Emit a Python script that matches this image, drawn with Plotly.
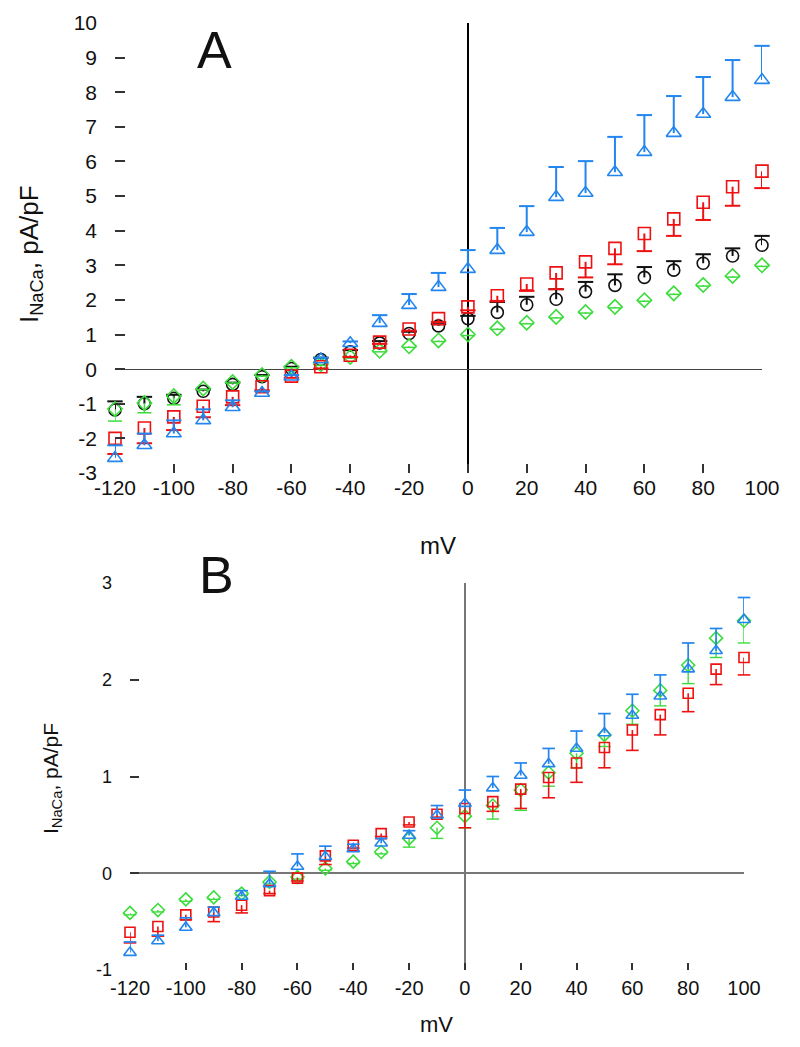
import plotly.graph_objects as go

# ---------------- data ----------------
voltage = [-120, -110, -100, -90, -80, -70, -60, -50, -40, -30, -20, -10,
           0, 10, 20, 30, 40, 50, 60, 70, 80, 90, 100]

# Panel A
a_circle = [-1.18, -1.00, -0.84, -0.64, -0.44, -0.22, 0.02, 0.28, 0.50, 0.76, 1.03, 1.25,
            1.46, 1.64, 1.86, 2.02, 2.24, 2.42, 2.65, 2.86, 3.06, 3.27, 3.58]
a_circle_err = [0.25, 0.20, 0.10, 0.05, 0.05, 0.05, 0.05, 0.05, 0.05, 0.05, 0.05, 0.05,
                0.08, 0.30, 0.23, 0.29, 0.28, 0.32, 0.30, 0.26, 0.26, 0.22, 0.27]

a_square = [-2.00, -1.70, -1.38, -1.07, -0.80, -0.51, -0.20, 0.07, 0.40, 0.78, 1.16, 1.46,
            1.80, 2.12, 2.46, 2.78, 3.10, 3.49, 3.92, 4.34, 4.82, 5.27, 5.72]
a_square_err = [0.45, 0.44, 0.38, 0.32, 0.24, 0.10, 0.05, 0.05, 0.05, 0.05, 0.05, 0.10,
                0.10, 0.15, 0.20, 0.47, 0.45, 0.46, 0.51, 0.49, 0.51, 0.55, 0.49]

a_triangle = [-2.57, -2.20, -1.86, -1.48, -1.10, -0.69, -0.22, 0.28, 0.75, 1.33, 1.85, 2.37,
              2.89, 3.44, 3.96, 4.97, 5.09, 5.69, 6.27, 6.82, 7.37, 7.86, 8.35]
a_triangle_err = [0.37, 0.34, 0.38, 0.32, 0.20, 0.05, 0.05, 0.05, 0.05, 0.23, 0.32, 0.41,
                  0.55, 0.64, 0.75, 0.87, 0.92, 1.02, 1.07, 1.07, 1.07, 1.07, 0.99]

a_diamond = [-1.15, -0.98, -0.78, -0.56, -0.37, -0.17, 0.07, 0.14, 0.35, 0.53, 0.66, 0.83,
             1.00, 1.18, 1.34, 1.51, 1.65, 1.80, 1.99, 2.19, 2.43, 2.69, 3.00]
a_diamond_err = [0.35, 0.28, 0.25, 0.03, 0.03, 0.03, 0.03, 0.03, 0.03, 0.03, 0.03, 0.03,
                 0.03, 0.03, 0.03, 0.03, 0.03, 0.03, 0.03, 0.03, 0.03, 0.03, 0.03]

# Panel B
b_square = [-0.61, -0.55, -0.43, -0.40, -0.33, -0.18, -0.05, 0.18, 0.29, 0.41, 0.53, 0.61,
            0.67, 0.74, 0.87, 0.99, 1.14, 1.30, 1.48, 1.64, 1.86, 2.11, 2.23]
b_square_err = [0.11, 0.10, 0.05, 0.10, 0.08, 0.03, 0.03, 0.09, 0.03, 0.03, 0.03, 0.03,
                0.20, 0.10, 0.20, 0.21, 0.20, 0.21, 0.21, 0.21, 0.19, 0.16, 0.18]

b_triangle = [-0.82, -0.70, -0.56, -0.41, -0.24, -0.11, 0.07, 0.17, 0.25, 0.31, 0.39, 0.60,
              0.72, 0.88, 1.01, 1.13, 1.29, 1.45, 1.63, 1.83, 2.11, 2.30, 2.62]
b_triangle_err = [0.11, 0.06, 0.10, 0.06, 0.06, 0.13, 0.13, 0.11, 0.05, 0.05, 0.05, 0.10,
                  0.14, 0.12, 0.13, 0.16, 0.18, 0.20, 0.22, 0.22, 0.27, 0.23, 0.23]

b_diamond = [-0.41, -0.38, -0.27, -0.25, -0.21, -0.09, -0.04, 0.05, 0.12, 0.22, 0.36, 0.47,
             0.59, 0.70, 0.86, 1.04, 1.24, 1.43, 1.68, 1.89, 2.15, 2.43, 2.61]
b_diamond_err = [0.02, 0.02, 0.02, 0.02, 0.02, 0.02, 0.02, 0.02, 0.02, 0.02, 0.09, 0.11,
                 0.12, 0.14, 0.21, 0.14, 0.15, 0.12, 0.14, 0.16, 0.19, 0.20, 0.23]

a_yticks = list(range(-3, 11))
b_yticks = [-1, 0, 1, 2, 3]
x_ticks = [-120, -100, -80, -60, -40, -20, 0, 20, 40, 60, 80, 100]

BLACK = "#111111"
RED = "#EE1111"
BLUE = "#2385EE"
GREEN = "#3CDC3C"
FONT = "Liberation Sans, Arial, sans-serif"

fig = go.Figure()


def add_series(x, y, err, direction, color, symbol, size, xa, ya, lw, capsize):
    zeros = [0] * len(y)
    if direction == "up":
        ey = dict(type="data", symmetric=False, array=err, arrayminus=zeros,
                  color=color, thickness=lw, width=0)
        caps = [v + e for v, e in zip(y, err)]
    else:
        ey = dict(type="data", symmetric=False, array=zeros, arrayminus=err,
                  color=color, thickness=lw, width=0)
        caps = [v - e for v, e in zip(y, err)]
    fig.add_trace(go.Scatter(
        x=x, y=y, mode="markers", xaxis=xa, yaxis=ya, error_y=ey,
        marker=dict(symbol=symbol, size=size, color=color,
                    line=dict(color=color, width=1.6)),
        cliponaxis=False, showlegend=False, hoverinfo="skip"))
    fig.add_trace(go.Scatter(
        x=x, y=caps, mode="markers", xaxis=xa, yaxis=ya,
        marker=dict(symbol="line-ew-open", size=capsize, color=color,
                    line=dict(color=color, width=lw)),
        cliponaxis=False, showlegend=False, hoverinfo="skip"))


# Panel A
add_series(voltage, a_circle, a_circle_err, "up", BLACK, "circle-open", 12, "x", "y", 2, 11)
add_series(voltage, a_diamond, a_diamond_err, "down", GREEN, "diamond-open", 11, "x", "y", 1.5, 10)
add_series(voltage, a_square, a_square_err, "down", RED, "square-open", 12, "x", "y", 2, 11)
add_series(voltage, a_triangle, a_triangle_err, "up", BLUE, "triangle-up-open", 13, "x", "y", 2, 11)

# Panel B
add_series(voltage, b_diamond, b_diamond_err, "down", GREEN, "diamond-open", 10, "x2", "y2", 1.4, 9)
add_series(voltage, b_square, b_square_err, "down", RED, "square-open", 10, "x2", "y2", 1.6, 9)
add_series(voltage, b_triangle, b_triangle_err, "up", BLUE, "triangle-up-open", 11, "x2", "y2", 1.7, 9)

# page body has an 8px margin: work in page pixels and convert
OFF = 8
W, H = 800 - 2 * OFF, 1047 - 2 * OFF


def px(p):
    return (p - OFF) / W


def py(p):
    return 1 - (p - OFF) / H


def axis_common(size):
    return dict(showgrid=False, showline=False, ticks="inside", automargin=False,
                tickcolor="#333333", tickwidth=1.5,
                tickfont=dict(family=FONT, size=size, color="#111111"))


def labels(vals):
    return [str(v) for v in vals]


fig.update_layout(
    width=W, height=H,
    margin=dict(l=0, r=0, t=0, b=0),
    paper_bgcolor="white", plot_bgcolor="white",
    font=dict(family=FONT, color="#111111"),
    xaxis=dict(domain=[px(115), px(762)], range=[-120, 100], anchor="y",
               tickvals=x_ticks, ticktext=labels(x_ticks), ticklen=9, ticklabelstandoff=0,
               zeroline=True, zerolinecolor="#000000", zerolinewidth=2,
               **axis_common(21)),
    yaxis=dict(domain=[py(473), py(23)], range=[-3, 10], anchor="x",
               tickvals=a_yticks, ticktext=labels(a_yticks), ticklen=10, ticklabelstandoff=17,
               zeroline=True, zerolinecolor="#444444", zerolinewidth=1,
               **axis_common(21)),
    xaxis2=dict(domain=[px(130), px(744)], range=[-120, 100], anchor="y2",
                tickvals=x_ticks, ticktext=labels(x_ticks), ticklen=7, ticklabelstandoff=4,
                zeroline=True, zerolinecolor="#777777", zerolinewidth=1.5,
                **axis_common(20)),
    yaxis2=dict(domain=[py(970), py(583)], range=[-1, 3], anchor="x2",
                tickvals=b_yticks, ticktext=labels(b_yticks), ticklen=9, ticklabelstandoff=17,
                zeroline=True, zerolinecolor="#777777", zerolinewidth=1.5,
                **axis_common(18)),
)

annots = [
    dict(text="A", x=px(215), y=py(50), font=dict(size=52)),
    dict(text="B", x=px(216), y=py(575), font=dict(size=52)),
    dict(text="mV", x=px(438), y=py(545), font=dict(size=24)),
    dict(text="mV", x=px(436), y=py(1024), font=dict(size=22)),
    dict(text="I<sub>NaCa</sub>, pA/pF", x=px(31), y=py(254), textangle=-90,
         font=dict(size=26)),
    dict(text="I<sub>NaCa</sub>, pA/pF", x=px(52), y=py(779), textangle=-90,
         font=dict(size=21)),
]
for a in annots:
    fig.add_annotation(xref="paper", yref="paper", showarrow=False,
                       xanchor="center", yanchor="middle",
                       **{k: v for k, v in a.items() if k != "font"},
                       font=dict(family=FONT, color="#111111", **a["font"]))

fig.write_html("out.html")
